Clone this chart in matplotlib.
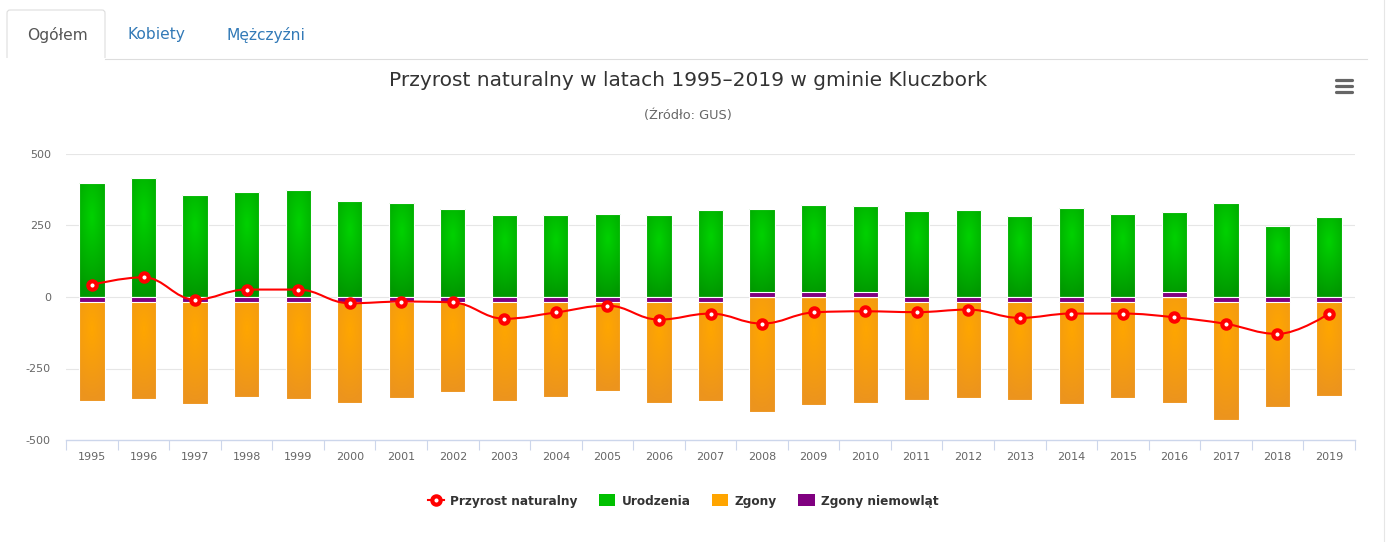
import numpy as np
import matplotlib
matplotlib.use("Agg")
import matplotlib.pyplot as plt
from matplotlib.patches import Rectangle, PathPatch
from matplotlib.path import Path
from matplotlib.lines import Line2D

plt.rcParams["font.family"] = ["DejaVu Sans"]
plt.rcParams["axes.unicode_minus"] = False

years = [str(y) for y in range(1995, 2020)]
births = [400, 416, 358, 366, 375, 337, 330, 309, 286, 286, 291, 286, 303,
          309, 320, 317, 300, 303, 283, 312, 291, 296, 330, 249, 278]
deaths = [362, 353, 371, 345, 353, 366, 350, 329, 362, 345, 324, 366, 362,
          403, 377, 369, 358, 350, 358, 371, 350, 369, 426, 383, 342]
infant = [3, 3, 3, 3, 3, 3, 3, 3, 3, 3, 3, 3, 3,
          0, 0, 0, 3, 3, 3, 3, 3, 0, 3, 3, 3]
natural = [43, 69, -9, 26, 26, -22, -16, -19, -76, -54, -30, -79, -58,
           -93, -54, -50, -53, -44, -73, -58, -58, -71, -94, -129, -58]

W, H = 1389, 542
fig = plt.figure(figsize=(W / 100, H / 100), dpi=100)


def fx(px):
    return px / W


def fy(py):
    return 1 - py / H


ax = fig.add_axes([fx(66.2), fy(440), fx(1354.8) - fx(66.2), fy(154) - fy(440)])
ax.set_xlim(-0.5, len(years) - 0.5)
ax.set_ylim(-500, 500)

GREEN = (np.array([0, 210, 0]) / 255, np.array([0, 152, 0]) / 255)
ORANGE = (np.array([255, 166, 0]) / 255, np.array([236, 148, 30]) / 255)
PURPLE = "#800080"
bw = 0.49
px_unit = 1000 / 286.0  # data units per pixel


def grad_bar(x, y0, y1, cols):
    lo, hi = min(y0, y1), max(y0, y1)
    rect = Rectangle((x - bw / 2, lo), bw, hi - lo, facecolor="none",
                     edgecolor="white", lw=0.8, zorder=3)
    ax.add_patch(rect)
    u = np.linspace(0, 1, 16)
    v = np.linspace(0, 1, 60)
    U, V = np.meshgrid(u, v)
    d = np.clip(np.sqrt(((U - 0.5) * 0.7) ** 2 + (V - 0.3) ** 2) / 0.7, 0, 1)[..., None]
    img = cols[0] * (1 - d) + cols[1] * d
    im = ax.imshow(img, extent=(x - bw / 2, x + bw / 2, lo, hi), origin="upper",
                   aspect="auto", interpolation="bilinear", zorder=2)
    im.set_clip_path(rect)


xs = np.arange(len(years))
for i in xs:
    grad_bar(i, 0, births[i], GREEN)
    grad_bar(i, -infant[i], -infant[i] - deaths[i], ORANGE)
    # infant deaths shown with a minimum bar length (5 px)
    h = max(infant[i], 5 * px_unit)
    sgn = -1 if infant[i] > 0 else 1
    ax.add_patch(Rectangle((i - bw / 2, 0), bw, sgn * h, facecolor=PURPLE,
                           edgecolor="white", lw=0.8, zorder=4))

# spline line (Highcharts-like control points)
ys = np.array(natural, dtype=float)
xf = xs.astype(float)
sm = 1.5
lc = [None] * len(xs)
rc = [None] * len(xs)
for i in range(1, len(xs) - 1):
    lx = (sm * xf[i] + xf[i - 1]) / (sm + 1)
    ly = (sm * ys[i] + ys[i - 1]) / (sm + 1)
    rx = (sm * xf[i] + xf[i + 1]) / (sm + 1)
    ry = (sm * ys[i] + ys[i + 1]) / (sm + 1)
    corr = (ry - ly) * (rx - xf[i]) / (rx - lx) + ys[i] - ry
    ly += corr
    ry += corr
    if ly > ys[i - 1] and ly > ys[i]:
        ly = max(ys[i - 1], ys[i])
        ry = 2 * ys[i] - ly
    elif ly < ys[i - 1] and ly < ys[i]:
        ly = min(ys[i - 1], ys[i])
        ry = 2 * ys[i] - ly
    if ry > ys[i + 1] and ry > ys[i]:
        ry = max(ys[i + 1], ys[i])
        ly = 2 * ys[i] - ry
    elif ry < ys[i + 1] and ry < ys[i]:
        ry = min(ys[i + 1], ys[i])
        ly = 2 * ys[i] - ry
    lc[i] = (lx, ly)
    rc[i] = (rx, ry)
verts = [(xf[0], ys[0])]
codes = [Path.MOVETO]
for i in range(1, len(xs)):
    c1 = rc[i - 1] if rc[i - 1] else (xf[i - 1], ys[i - 1])
    c2 = lc[i] if lc[i] else (xf[i], ys[i])
    verts += [c1, c2, (xf[i], ys[i])]
    codes += [Path.CURVE4] * 3
ax.add_patch(PathPatch(Path(verts, codes), facecolor="none", edgecolor="#ff0000",
                       lw=1.5, zorder=5))
ax.plot(xs, natural, linestyle="none", marker="o", ms=6, mew=3,
        mfc="white", mec="#ff0000", zorder=6)

# axes styling
for s in ["left", "top", "right"]:
    ax.spines[s].set_visible(False)
ax.spines["bottom"].set_color("#ccd6eb")
ax.spines["bottom"].set_linewidth(1)
ax.set_yticks([-500, -250, 0, 250, 500])
ax.set_yticklabels(["-500", "-250", "0", "250", "500"])
ax.tick_params(axis="y", length=0, pad=11, labelsize=8, labelcolor="#666666")
for v in [-250, 0, 250, 500]:
    ax.axhline(v, color="#e6e6e6", lw=0.8, zorder=1)
ax.set_xticks(np.arange(-0.5, len(years)), minor=False)
ax.set_xticklabels([])
ax.tick_params(axis="x", which="major", length=7, color="#ccd6eb", width=0.8)
ax.set_xticks(xs, minor=True)
ax.set_xticklabels(years, minor=True)
ax.tick_params(axis="x", which="minor", length=0, pad=9, labelsize=8,
               labelcolor="#666666")
ax.set_facecolor("none")

# title and subtitle
fig.text(fx(688), fy(80), "Przyrost naturalny w latach 1995–2019 w gminie Kluczbork",
         ha="center", va="center", fontsize=14.5, color="#333333")
fig.text(fx(688), fy(116), "(Źródło: GUS)", ha="center", va="center",
         fontsize=9.3, color="#666666")

# tabs
tab = Path([(fx(7), fy(58)), (fx(7), fy(13)), (fx(7), fy(10)), (fx(10), fy(10)),
            (fx(102), fy(10)), (fx(105), fy(10)), (fx(105), fy(13)), (fx(105), fy(58))],
           [Path.MOVETO, Path.LINETO, Path.CURVE3, Path.CURVE3, Path.LINETO,
            Path.CURVE3, Path.CURVE3, Path.LINETO])
fig.add_artist(PathPatch(tab, facecolor="white", edgecolor="#dddddd", lw=0.8,
                         transform=fig.transFigure))
fig.add_artist(Line2D([fx(105), fx(1367)], [fy(58.5), fy(58.5)], color="#dddddd",
                      lw=0.8, transform=fig.transFigure))
fig.add_artist(Line2D([fx(1383.5), fx(1383.5)], [0, 1], color="#e6e6e6",
                      lw=0.8, transform=fig.transFigure))
fig.text(fx(57), fy(35), "Ogółem", ha="center", va="center", fontsize=11.2,
         color="#555555")
fig.text(fx(156), fy(35), "Kobiety", ha="center", va="center", fontsize=11.2,
         color="#337ab7")
fig.text(fx(266), fy(35), "Mężczyźni", ha="center", va="center", fontsize=11.2,
         color="#337ab7")

# menu icon
for yy in [80, 86, 92]:
    fig.add_artist(Line2D([fx(1335.5), fx(1351.5)], [fy(yy), fy(yy)], color="#666666",
                          lw=2.3, solid_capstyle="round", transform=fig.transFigure))

# legend
handles = [
    Line2D([], [], color="#ff0000", lw=1.5, marker="o", ms=6, mew=3,
           mfc="white", mec="#ff0000"),
    Rectangle((0, 0), 1, 1, facecolor="#00c000"),
    Rectangle((0, 0), 1, 1, facecolor="#ffa500"),
    Rectangle((0, 0), 1, 1, facecolor=PURPLE),
]
labels = ["Przyrost naturalny", "Urodzenia", "Zgony", "Zgony niemowląt"]
leg = fig.legend(handles, labels, loc="center", bbox_to_anchor=(fx(683), fy(501)),
                 ncol=4, frameon=False, handlelength=1.35, handleheight=1.15,
                 handletextpad=0.5, columnspacing=1.8,
                 prop={"size": 8.7, "weight": "bold"})
for t in leg.get_texts():
    t.set_color("#333333")

fig.savefig("out.png", dpi=100, facecolor="white")
